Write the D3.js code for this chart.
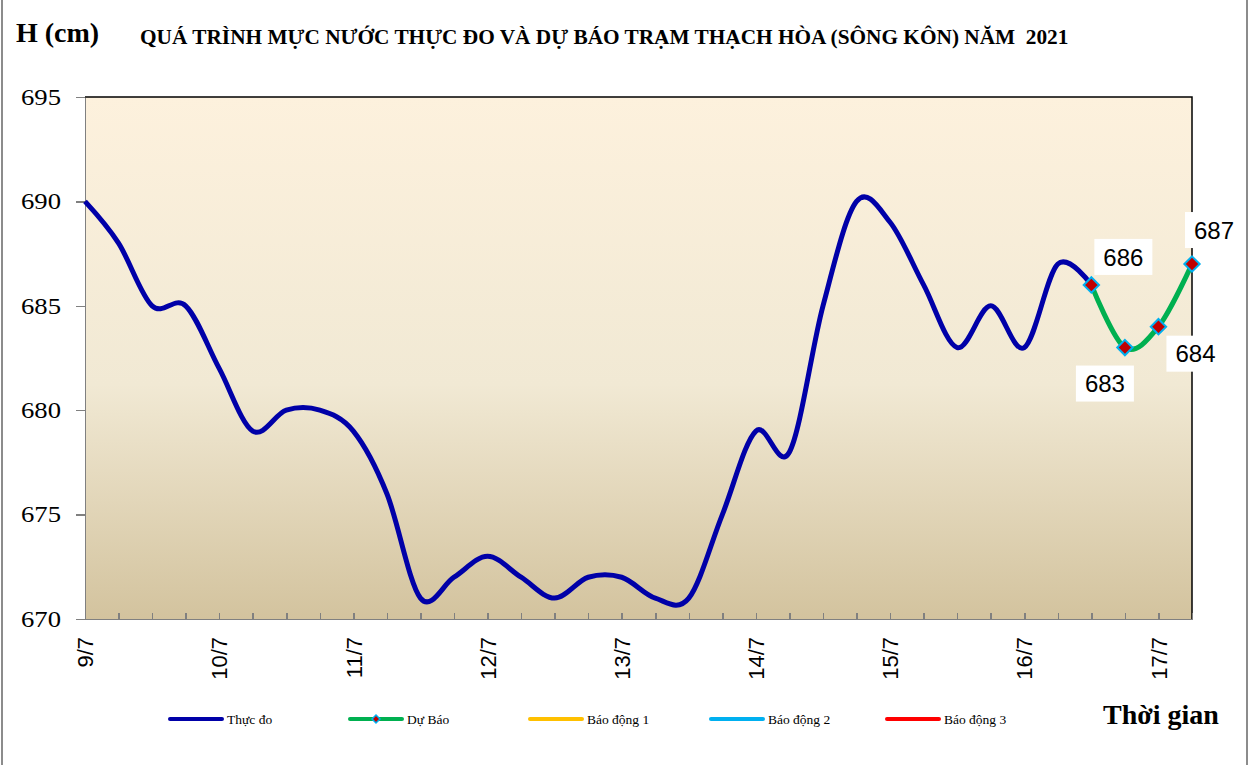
<!DOCTYPE html>
<html>
<head>
<meta charset="utf-8" />
<title>Mực nước trạm Thạch Hòa</title>
<script src="https://cdn.jsdelivr.net/npm/d3@7"></script>
<style>
  body { margin: 0; background: #fff; }
  .yaxis text { font: 23px "Liberation Serif", "Times New Roman", serif; fill: #000; }
  .xaxis text { font: 22px "Liberation Sans", Arial, sans-serif; fill: #000; }
  .axis path, .axis line { stroke: #808080; stroke-width: 1.5; shape-rendering: crispEdges; }
  .legend text { font: 13.5px "Liberation Serif", "Times New Roman", serif; fill: #000; }
  .lbl { font: 24px "Liberation Sans", Arial, sans-serif; fill: #000; }
</style>
</head>
<body>
<script>
// so lieu doc tu hinh, moi diem cach nhau 6 gio, bat dau 0h ngay 9/7
var thucDo = [690, 688, 685, 685, 682, 679, 680, 680,
              679, 676, 671, 672, 673, 672, 671, 672,
              672, 671, 671, 675, 679, 678, 685, 690,
              689, 686, 683, 685, 683, 687, 686];
var duBao = [686, 683, 684, 687];   // tu diem thu 30
var duBaoStart = 30;
var ngay = ["9/7", "10/7", "11/7", "12/7", "13/7", "14/7", "15/7", "16/7", "17/7"];
var yTicks = [670, 675, 680, 685, 690, 695];
var legendItems = [
  { name: "Thực đo", color: "#0000a8" },
  { name: "Dự Báo", color: "#00b050", marker: true },
  { name: "Báo động 1", color: "#ffc000" },
  { name: "Báo động 2", color: "#00b0f0" },
  { name: "Báo động 3", color: "#ff0000" }
];
var labelOffsets = [[32, -28], [-20, 36], [37, 27], [22, -34]];

var W = 1254, H = 765;
var pLeft = 85, pRight = 1192, pTop = 97, pBottom = 619;

var svg = d3.select("body").append("svg")
    .attr("width", W)
    .attr("height", H);

// khung ngoai
svg.append("rect")
  .attr("x", 2).attr("y", -5).attr("width", 1245).attr("height", H + 10)
  .attr("fill", "#fff").attr("stroke", "#8c8c8c").attr("stroke-width", 2);

var x = d3.scaleLinear().domain([0, 33]).range([pLeft, pRight]);
var y = d3.scaleLinear().domain([670, 695]).range([pBottom, pTop]);

// nen gradient
var defs = svg.append("defs");
var grad = defs.append("linearGradient").attr("id", "bg")
  .attr("x1", 0).attr("y1", 0).attr("x2", 0).attr("y2", 1);
grad.append("stop").attr("offset", "0%").attr("stop-color", "#fdf1dd");
grad.append("stop").attr("offset", "55%").attr("stop-color", "#f1e9d4");
grad.append("stop").attr("offset", "100%").attr("stop-color", "#d3c39e");

svg.append("rect")
  .attr("x", pLeft).attr("y", pTop)
  .attr("width", pRight - pLeft).attr("height", pBottom - pTop)
  .attr("fill", "url(#bg)");

// vien tren va phai mau den
svg.append("path")
  .attr("d", "M" + pLeft + "," + pTop + "H" + pRight + "V" + pBottom)
  .attr("fill", "none").attr("stroke", "#000").attr("stroke-width", 1.5);

// truc Y
var yAxis = svg.append("g").attr("class", "axis yaxis")
  .attr("transform", "translate(" + pLeft + ",0)")
  .call(d3.axisLeft(y).tickValues(yTicks).tickSize(9).tickSizeOuter(0).tickPadding(15).tickFormat(d3.format("d")));
yAxis.selectAll("text")
  .attr("textLength", 40).attr("lengthAdjust", "spacingAndGlyphs");

// truc X: tick moi 6 gio, nhan moi ngay
var xAxis = svg.append("g").attr("class", "axis xaxis")
  .attr("transform", "translate(0," + pBottom + ")")
  .call(d3.axisBottom(x).tickValues(d3.range(34)).tickSize(-6).tickSizeOuter(0)
    .tickFormat(function(d) { return d % 4 == 0 ? ngay[d / 4] : ""; }));
xAxis.selectAll("text")
  .attr("transform", "rotate(-90)")
  .attr("x", -18).attr("y", 0).attr("dy", "0.35em")
  .style("text-anchor", "end");

// duong cong
var line = d3.line()
  .x(function(d) { return x(d.i); })
  .y(function(d) { return y(d.v); })
  .curve(d3.curveCardinal.tension(0));

var dataTD = thucDo.map(function(v, i) { return { i: i, v: v }; });
var dataDB = duBao.map(function(v, i) { return { i: i + duBaoStart, v: v }; });

svg.append("path").datum(dataTD)
  .attr("d", line).attr("fill", "none")
  .attr("stroke", "#0000a8").attr("stroke-width", 5).attr("stroke-linejoin", "round");

svg.append("path").datum(dataDB)
  .attr("d", line).attr("fill", "none")
  .attr("stroke", "#00b050").attr("stroke-width", 5).attr("stroke-linejoin", "round");

var diamond = d3.symbol().type(d3.symbolDiamond2).size(150);
svg.selectAll(".mk").data(dataDB).enter().append("path")
  .attr("class", "mk")
  .attr("d", diamond)
  .attr("transform", function(d) { return "translate(" + x(d.i) + "," + y(d.v) + ")"; })
  .attr("fill", "#c00000").attr("stroke", "#00b0f0").attr("stroke-width", 2);

// nhan du bao
var lbl = svg.selectAll(".lb").data(dataDB).enter().append("g")
  .attr("transform", function(d, k) {
    return "translate(" + (x(d.i) + labelOffsets[k][0]) + "," + (y(d.v) + labelOffsets[k][1]) + ")";
  });
lbl.append("rect")
  .attr("x", -29).attr("y", -18).attr("width", 58).attr("height", 36)
  .attr("fill", "#fff");
lbl.append("text").attr("class", "lbl")
  .attr("text-anchor", "middle").attr("dy", "0.36em")
  .text(function(d) { return d.v; });

// tieu de
svg.append("text")
  .attr("x", 16).attr("y", 42)
  .style("font", "bold 28px 'Liberation Serif', 'Times New Roman', serif")
  .text("H (cm)");
svg.append("text")
  .attr("x", 140).attr("y", 44)
  .style("font", "bold 21.3px 'Liberation Serif', 'Times New Roman', serif")
  .attr("xml:space", "preserve")
  .text("QUÁ TRÌNH MỰC NƯỚC THỰC ĐO VÀ DỰ BÁO TRẠM THẠCH HÒA (SÔNG KÔN) NĂM  2021");
svg.append("text")
  .attr("x", 1103).attr("y", 724)
  .style("font", "bold 28px 'Liberation Serif', 'Times New Roman', serif")
  .text("Thời gian");

// chu giai
var lg = svg.append("g").attr("class", "legend");
var lgX = [170, 350, 530, 711, 887];
legendItems.forEach(function(it, k) {
  var g = lg.append("g").attr("transform", "translate(" + lgX[k] + ",719)");
  g.append("line").attr("x1", 0).attr("x2", 52)
    .attr("stroke", it.color).attr("stroke-width", 4).attr("stroke-linecap", "round");
  if (it.marker) {
    g.append("path").attr("d", d3.symbol().type(d3.symbolDiamond2).size(40))
      .attr("transform", "translate(26,0)")
      .attr("fill", "#c00000").attr("stroke", "#00b0f0").attr("stroke-width", 1.5);
  }
  g.append("text").attr("x", 57).attr("dy", "0.35em").text(it.name);
});
</script>
</body>
</html>
